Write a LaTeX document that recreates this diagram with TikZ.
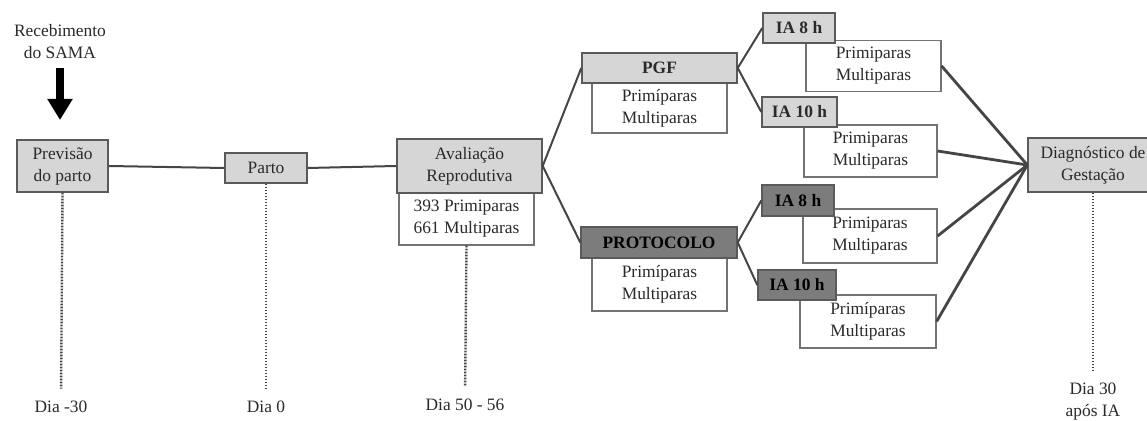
\documentclass[tikz,border=0pt]{standalone}
\usepackage{fontspec}
\setmainfont{Liberation Serif}
\usetikzlibrary{arrows.meta}
\definecolor{lightbox}{HTML}{D6D6D6}
\definecolor{darkbox}{HTML}{7C7C7C}
\definecolor{edge}{HTML}{5A5A5A}
\definecolor{conn}{HTML}{454545}
\definecolor{txt}{HTML}{2A2A2A}
\begin{document}
\begin{tikzpicture}[x=0.5pt,y=-0.5pt,
  every node/.style={font=\fontsize{8.7}{11}\selectfont, text=txt, inner sep=0pt, align=center},
  lbox/.style={draw=edge, line width=0.7pt, fill=lightbox},
  dbox/.style={draw=edge, line width=0.7pt, fill=darkbox, text=black},
  wbox/.style={draw=edge!85, line width=0.6pt, fill=white},
  boldtxt/.style={font=\fontsize{8.7}{11}\selectfont\bfseries},
  conline/.style={draw=conn, line width=1pt},
  diagline/.style={draw=conn, line width=1.4pt},
  dotline/.style={draw=conn, line width=1.2pt, dash pattern=on 0.9pt off 0.6pt, shorten >=6pt},
  bigarrow/.style={draw=black, line width=4pt, -{Triangle[width=12pt,length=10.5pt]}}
]
\useasboundingbox (0,0) rectangle (1147,421);
\fill[white] (0,0) rectangle (1147,421);

% left header
\node (rec) at (60,42) {Recebimento\\do SAMA};
\coordinate (a1) at (60,68);
\coordinate (a2) at (60,120);
\draw[bigarrow] (a1) -- (a2);

% main timeline boxes
\node[lbox, minimum width=45.5pt, minimum height=26pt] (prev) at (62.5,166) {Previsão\\do parto};
\node[lbox, minimum width=41pt, minimum height=15pt] (parto) at (266,168) {Parto};
\node[wbox, minimum width=67.5pt, minimum height=26.5pt] (avalsub) at (466.5,218.5) {393 Primiparas\\661 Multiparas};
\node[lbox, minimum width=72.5pt, minimum height=27pt] (aval) at (469.5,166) {Avaliação\\Reprodutiva};

% PGF branch
\node[wbox, minimum width=67.5pt, minimum height=25pt] (pgfsub) at (659.5,108) {Primíparas\\Multiparas};
\node[lbox, minimum width=77.5pt, minimum height=15pt, boldtxt] (pgf) at (659.5,68) {PGF};

% PROTOCOLO branch
\node[wbox, minimum width=67.5pt, minimum height=26.5pt] (protsub) at (659.5,284.5) {Primíparas\\Multiparas};
\node[dbox, minimum width=78pt, minimum height=15.5pt, boldtxt] (prot) at (659,242.5) {PROTOCOLO};

% IA boxes and groups
\node[wbox, minimum width=67.5pt, minimum height=25.5pt] (s1) at (873.5,66) {Primiparas\\Multiparas};
\node[wbox, minimum width=66.5pt, minimum height=26pt] (s2) at (870.5,151) {Primiparas\\Multiparas};
\node[wbox, minimum width=67pt, minimum height=27pt] (s3) at (870,236) {Primiparas\\Multiparas};
\node[wbox, minimum width=68pt, minimum height=26.5pt] (s4) at (868,321.5) {Primíparas\\Multiparas};

\node[lbox, minimum width=36pt, minimum height=15pt, boldtxt] (ia1) at (799,28) {IA 8 h};
\node[lbox, minimum width=37.5pt, minimum height=15pt, boldtxt] (ia2) at (799.5,112) {IA 10 h};
\node[dbox, minimum width=36pt, minimum height=15.5pt, boldtxt] (ia3) at (798,200.5) {IA 8 h};
\node[dbox, minimum width=39pt, minimum height=15pt, boldtxt] (ia4) at (797,285) {IA 10 h};

% diagnosis
\node[lbox, minimum width=65pt, minimum height=27pt] (diag) at (1093,165) {Diagnóstico de\\Gestação};

% day labels
\node (d1) at (61,407) {Dia -30};
\node (d2) at (266,407) {Dia 0};
\node (d3) at (465,405) {Dia 50 - 56};
\node (d4) at (1093,402) {Dia 30\\após IA};

% connectors
\draw[conline] (prev.east) -- (parto.west);
\draw[conline] (parto.east) -- (aval.west);
\draw[conline] (aval.east) -- (pgf.west);
\draw[conline] (aval.east) -- (prot.west);
\draw[conline] (pgf.east) -- (ia1.west);
\draw[conline] (pgf.east) -- (ia2.west);
\draw[conline] (prot.east) -- (ia3.west);
\draw[conline] (prot.east) -- (ia4.west);
\draw[diagline] (s1.east) -- (diag.west);
\draw[diagline] (s2.east) -- (diag.west);
\draw[diagline] (s3.east) -- (diag.west);
\draw[diagline] (s4.east) -- (diag.west);

% dotted time lines
\draw[dotline] (prev.south) -- (d1.north);
\draw[dotline] (parto.south) -- (d2.north);
\draw[dotline] (avalsub.south) -- (d3.north);
\draw[dotline] (diag.south) -- (d4.north);
\end{tikzpicture}
\end{document}
